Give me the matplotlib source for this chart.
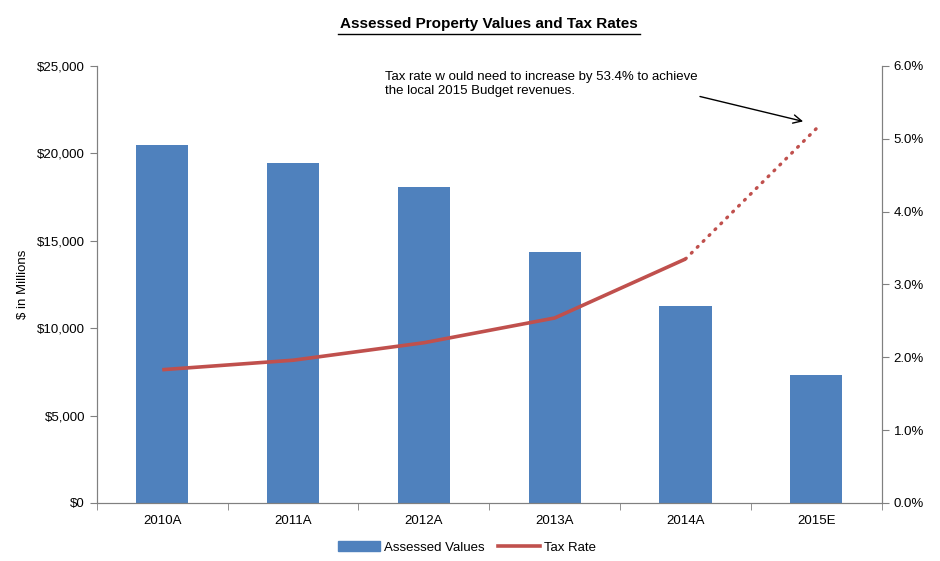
import matplotlib.pyplot as plt
from matplotlib.ticker import FuncFormatter
from matplotlib.lines import Line2D
from matplotlib.patches import Patch
import numpy as np

plt.rcParams['font.family'] = ['Liberation Sans', 'DejaVu Sans']

# --- dados ---
anos = ['2010A', '2011A', '2012A', '2013A', '2014A', '2015E']
valores = [20480, 19450, 18080, 14360, 11280, 7330]      # $ milhoes
taxa = [1.83, 1.96, 2.20, 2.54, 3.35, 5.14]              # %
nota = 'Tax rate w ould need to increase by 53.4% to achieve\nthe local 2015 Budget revenues.'

cor_barra = '#4F81BD'
cor_linha = '#C0504D'
cinza = '#808080'

fig = plt.figure(figsize=(9.4, 5.61), dpi=100)
ax = fig.add_axes([0.103, 0.1034, 0.835, 0.779])
x = np.arange(len(anos))

ax.bar(x, valores, width=0.4, color=cor_barra, zorder=2)
ax.set_xlim(-0.5, len(anos) - 0.5)
ax.set_ylim(0, 25000)
ax.set_yticks(np.arange(0, 25001, 5000))
ax.yaxis.set_major_formatter(FuncFormatter(lambda v, p: f'${v:,.0f}'))
ax.set_xticks(x)
ax.set_xticklabels(anos)
ax.set_xticks(np.arange(-0.5, len(anos)), minor=True)
ax.tick_params(axis='x', which='major', length=0, pad=9)
ax.tick_params(axis='x', which='minor', length=5, color=cinza)
ax.tick_params(axis='y', length=5, color=cinza)
ax.tick_params(labelsize=9.5)
ax.set_ylabel('$ in Millions', fontsize=9.5, labelpad=6)

# eixo direito
ax2 = ax.twinx()
ax2.set_ylim(0, 6)
ax2.set_yticks(np.arange(0, 6.01, 1))
ax2.yaxis.set_major_formatter(FuncFormatter(lambda v, p: f'{v:.1f}%'))
ax2.tick_params(axis='y', length=5, color=cinza, labelsize=9.5)

for a in (ax, ax2):
    a.spines['top'].set_visible(False)
    for s in ('left', 'right', 'bottom'):
        a.spines[s].set_color(cinza)

# linha da taxa: real (solida) e estimada (pontilhada)
ax2.plot(x[:5], taxa[:5], color=cor_linha, lw=2.6, solid_capstyle='butt', zorder=3)
ax2.plot(x[4:], taxa[4:], color=cor_linha, lw=2.4, linestyle=(0, (0.3, 2.2)),
         dash_capstyle='round', zorder=3)

# seta + texto da nota
ax2.annotate('', xy=(4.92, 5.23), xytext=(4.09, 5.59),
             arrowprops=dict(arrowstyle='->', color='black', lw=1, mutation_scale=15))
ax2.text(1.70, 5.93, nota, fontsize=9.5, va='top', ha='left')

fig.text(0.52, 0.957, 'Assessed Property Values and Tax Rates', ha='center', va='center',
         fontsize=11, fontweight='bold')
fig.add_artist(Line2D([0.36, 0.681], [0.940, 0.940], color='black', lw=1))

handles = [Patch(color=cor_barra, label='Assessed Values'),
           Line2D([], [], color=cor_linha, lw=2.6, label='Tax Rate')]
fig.legend(handles=handles, loc='center', bbox_to_anchor=(0.497, 0.024), ncol=2,
           frameon=False, fontsize=9.5, handlelength=3.2, handletextpad=0.3,
           columnspacing=1.0)

fig.savefig('out.png', dpi=100)
